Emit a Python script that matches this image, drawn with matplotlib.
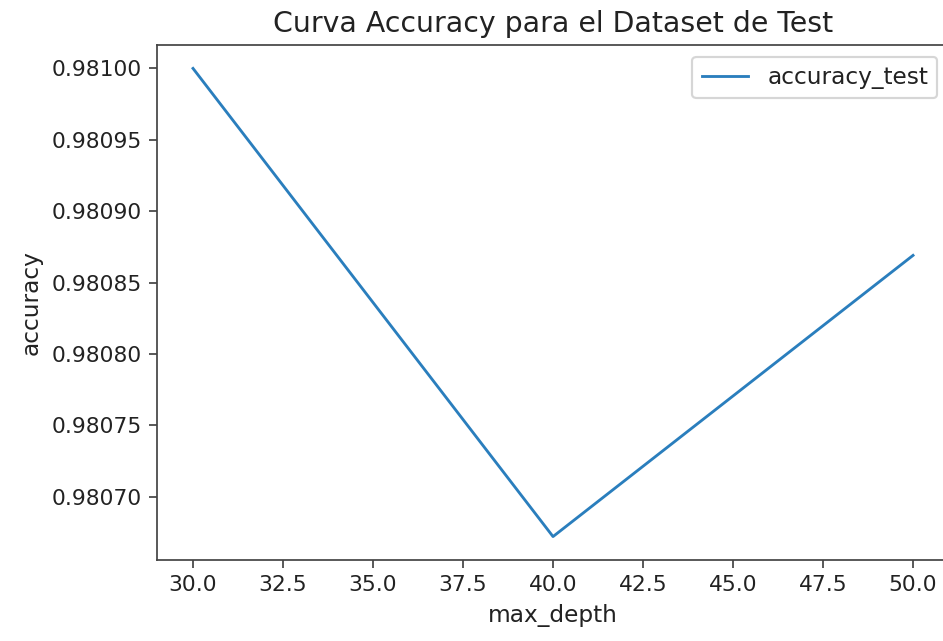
import matplotlib
matplotlib.use("Agg")
import matplotlib.pyplot as plt

max_depth = [30, 40, 50]
accuracy_test = [0.98100, 0.980672, 0.980869]

DPI = 157
fig = plt.figure(figsize=(943 / DPI, 641 / DPI), dpi=DPI)
ax = fig.add_axes([0.1665, 0.1264, 1.0064 - 0.1665, 0.9298 - 0.1264])

ax.plot(max_depth, accuracy_test, color="#2a7ebd", linewidth=1.3, label="accuracy_test")
ax.set_title("Curva Accuracy para el Dataset de Test", fontsize=13, color="#222222")
ax.set_xlabel("max_depth", fontsize=10.7, color="#222222")
ax.set_ylabel("accuracy", fontsize=10.7, color="#222222")
ax.tick_params(labelsize=10, labelcolor="#222222", color="#444444")
for sp in ax.spines.values():
    sp.set_color("#444444")
ax.yaxis.set_major_formatter(matplotlib.ticker.FormatStrFormatter("%.5f"))
leg = ax.legend(loc="upper right", fontsize=10.7)
for t in leg.get_texts():
    t.set_color("#222222")

fig.savefig("out.png", dpi=DPI)
